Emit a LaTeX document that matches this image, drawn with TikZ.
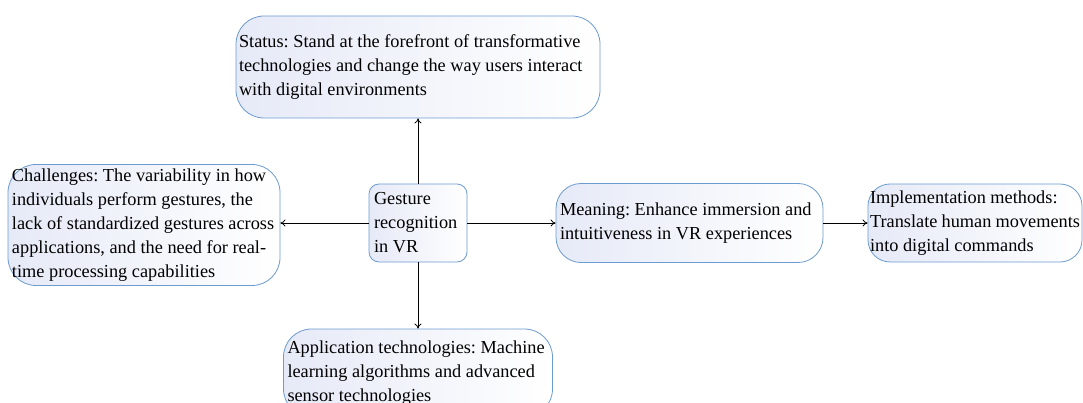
\documentclass[tikz,border=0pt]{standalone}
\usepackage{fontspec}
\setmainfont{Liberation Serif}
\usetikzlibrary{arrows.meta}
\definecolor{boxline}{RGB}{108,155,208}
\definecolor{boxfill}{RGB}{230,234,247}
\tikzset{
  card/.style={draw=boxline, line width=.8pt, left color=boxfill, right color=white,
    align=flush left, inner sep=4pt, font=\fontsize{18.3}{24}\selectfont\frenchspacing},
  link/.style={-{To[length=5pt,width=7pt]}, line width=.8pt}
}
\begin{document}
\begin{tikzpicture}[x=1pt,y=-1pt]
\useasboundingbox (0,0) rectangle (1083,403);
%
% cajas
\node[card, rounded corners=10pt, minimum width=98pt, minimum height=78pt, text width=88pt, inner sep=5pt]
  (gesture) at (418,223) {Gesture\\recognition\\in VR};
\node[card, rounded corners=28pt, minimum width=364pt, minimum height=102pt, text width=358pt, inner sep=3pt]
  (status) at (418,67) {Status: Stand at the forefront of transformative\\technologies and change the way users interact\\with digital environments};
\node[card, rounded corners=28pt, minimum width=272pt, minimum height=121pt, text width=264pt]
  (chall) at (144,225) {Challenges: The variability in how\\individuals perform gestures, the\\lack of standardized gestures across\\applications, and the need for real-\\time processing capabilities};
\node[card, rounded corners=25pt, minimum width=267pt, minimum height=79pt, text width=259pt]
  (meaning) at (689.5,223) {Meaning: Enhance immersion and\\intuitiveness in VR experiences};
\node[card, rounded corners=22pt, minimum width=214pt, minimum height=78pt, text width=210pt, inner sep=2pt]
  (impl) at (975,223) {Implementation methods:\\Translate human movements\\into digital commands};
\node[card, rounded corners=28pt, minimum width=269pt, minimum height=88pt, text width=261pt]
  (appl) at (418,373) {Application technologies: Machine\\learning algorithms and advanced\\sensor technologies};
%
% flechas
\draw[link] (gesture) -- (status);
\draw[link] (gesture.west) -- (gesture.west -| chall.east);
\draw[link] (gesture) -- (meaning);
\draw[link] (meaning) -- (impl);
\draw[link] (gesture) -- (appl);
\end{tikzpicture}
\end{document}
